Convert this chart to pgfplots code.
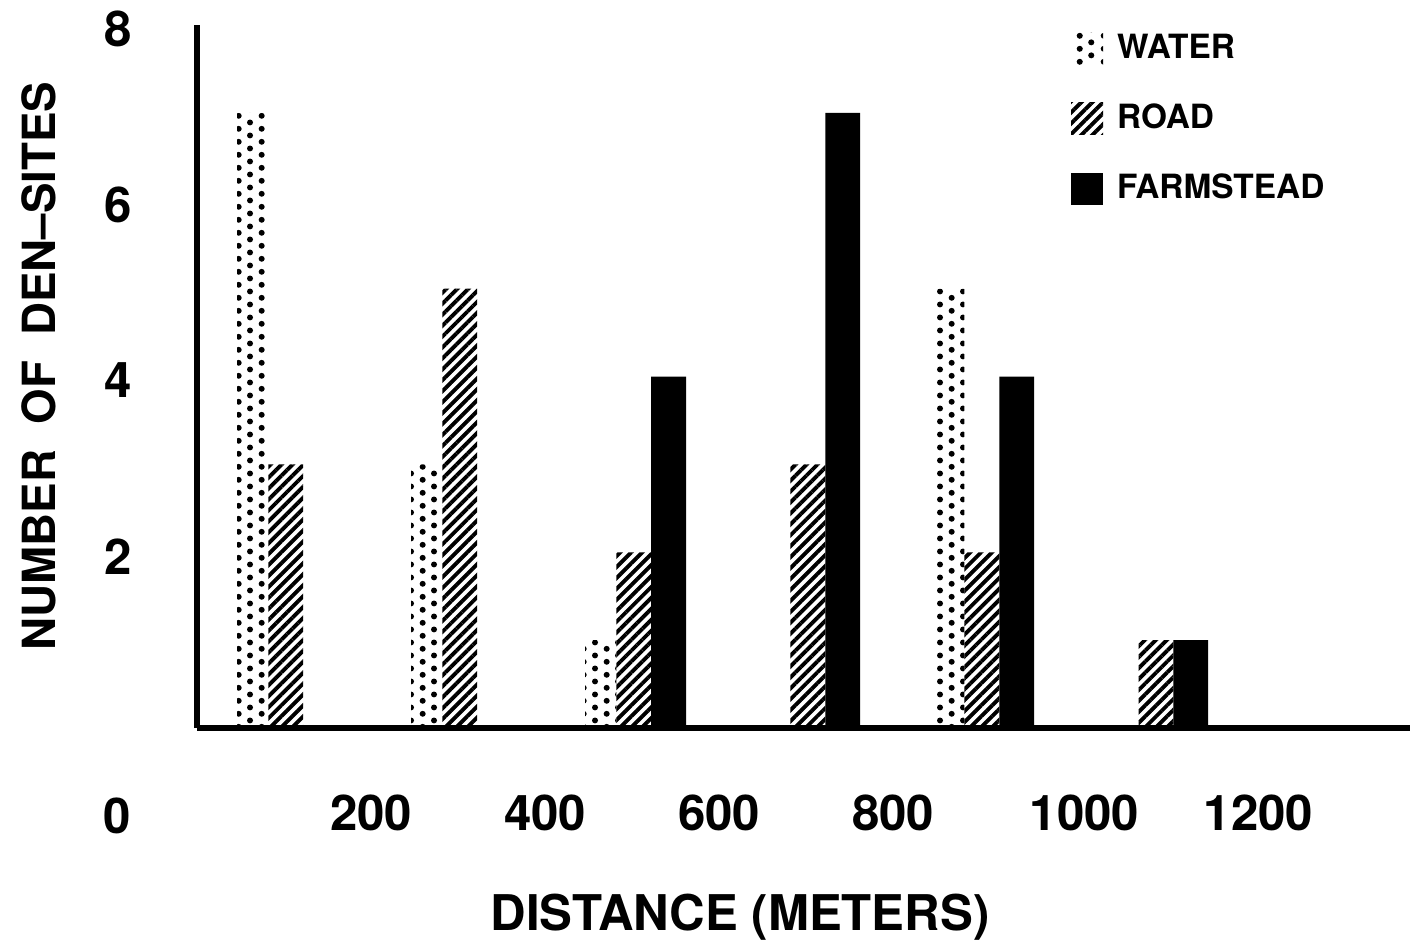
\documentclass[border=0pt]{standalone}
\usepackage{fontspec}
\setmainfont{TeX Gyre Heros}
\usepackage{pgfplots}
\pgfplotsset{compat=1.18}
\usetikzlibrary{patterns,patterns.meta}

\tikzdeclarepattern{
  name=waterdots,
  type=uncolored,
  tile size={(6.64pt,3.79pt)},
  bottom left={(0pt,0pt)},
  top right={(6.64pt,3.79pt)},
  code={
    \pgfpathcircle{\pgfqpoint{1.66pt}{0.95pt}}{0.88pt}
    \pgfpathcircle{\pgfqpoint{4.98pt}{2.85pt}}{0.88pt}
    \pgfusepath{fill}
  }
}

\pgfplotstableread{
x y
64 7
264 3
464 1
864 5
}\water
\pgfplotstableread{
x y
102 3
302 5
502 2
702 3
902 2
1102 1
}\road
\pgfplotstableread{
x y
542 4
742 7
942 4
1142 1
}\farm

\begin{document}
\begin{tikzpicture}
\path[use as bounding box] (0,0) rectangle (14.21,9.43);
\begin{axis}[
  at={(1.97cm,2.15cm)}, anchor=south west,
  scale only axis, width=12.13cm, height=7.03cm,
  xmin=0, xmax=1394, ymin=0, ymax=8,
  axis lines*=left,
  axis line style={line width=1.8pt, -},
  ytick={2,4,6,8},
  xtick={200,400,600,800,1020,1220},
  xticklabels={200,400,600,800,1000,1200},
  major tick length=0pt,
  /pgf/number format/assume math mode=true,
  tick label style={font=\bfseries\fontsize{14}{16}\selectfont},
  yticklabel style={xshift=-0.53cm, yshift=-0.04cm},
  xticklabel style={yshift=-0.54cm},
  clip=false,
  mylegend/.style={legend image code/.code={\path[##1, draw=none] (0cm,-0.16cm) rectangle (0.32cm,0.16cm);}},
  legend style={at={(rel axis cs:0.72,0.99)}, anchor=north west, draw=none, fill=none,
    inner sep=0pt, row sep=0.38cm, font=\bfseries\fontsize{9.5}{11}\selectfont,
    nodes={inner sep=0pt},
    /tikz/every odd column/.append style={column sep=0.14cm}},
  legend cell align=left,
]
\addplot[ybar, bar width=36, bar shift=0pt, draw=none, pattern=waterdots, pattern color=black, mylegend] table[x=x,y=y] {\water};
\addlegendentry{WATER}
\addplot[ybar, bar width=40, bar shift=0pt, draw=none, pattern={Lines[angle=45,distance=2.2pt,line width=1.1pt]}, pattern color=black, mylegend] table[x=x,y=y] {\road};
\addlegendentry{ROAD}
\addplot[ybar, bar width=40, bar shift=0pt, draw=none, fill=black, mylegend] table[x=x,y=y] {\farm};
\addlegendentry{FARMSTEAD}
\end{axis}
\node[font=\bfseries\fontsize{14}{16}\selectfont] at (1.17,1.27) {0};
\node[font=\bfseries\fontsize{14}{16}\selectfont, anchor=base] at (7.40,0.13) {DISTANCE (METERS)};
\node[font=\bfseries\fontsize{13}{15}\selectfont, anchor=base, rotate=90] at (0.55,5.77) {NUMBER\ \ OF\ \ DEN--SITES};
\end{tikzpicture}
\end{document}
